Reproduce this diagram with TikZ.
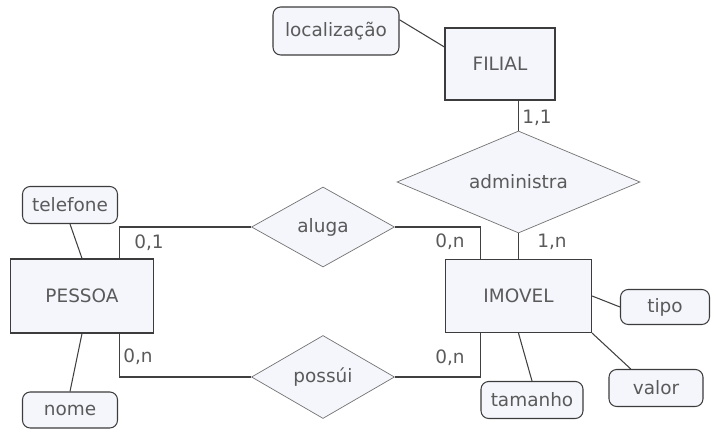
\documentclass[tikz,border=0pt]{standalone}
\usepackage{fontspec}
\setmainfont{DejaVu Sans}
\usetikzlibrary{shapes.geometric}
\definecolor{boxfill}{RGB}{244,246,251}
\definecolor{boxline}{RGB}{60,60,60}
\definecolor{txtgray}{RGB}{90,90,90}
\begin{document}
\begin{tikzpicture}[
    entity/.style={draw=boxline,line width=0.7pt,fill=boxfill,rectangle,text=txtgray,font=\fontsize{10.5}{12}\selectfont},
    attrib/.style={draw=boxline,line width=0.6pt,fill=boxfill,rectangle,rounded corners=0.8ex,text=txtgray,font=\fontsize{10.5}{12}\selectfont,inner sep=1pt},
    relation/.style={draw=black!55,fill=boxfill,diamond,aspect=2,inner sep=0pt,text=txtgray,font=\fontsize{10.5}{12}\selectfont},
    card/.style={text=txtgray,font=\fontsize{10.5}{12}\selectfont,inner sep=1pt},
    link/.style={draw=black!75,line width=0.6pt}]
    \useasboundingbox (0,0) rectangle (14.22,8.6);
    %% Entities
    \node[entity,minimum width=2.2cm,minimum height=1.44cm] (filial) at (10.0,7.32) {FILIAL};
    \node[entity,minimum width=2.92cm,minimum height=1.46cm] (imovel) at (10.37,2.68) {IMOVEL};
    \node[entity,minimum width=2.86cm,minimum height=1.48cm] (pessoa) at (1.64,2.68) {PESSOA};
    %% Relationships
    \node[relation,minimum width=4.86cm,minimum height=2.04cm] (admin) at (10.37,4.96) {administra};
    \node[relation,minimum width=2.86cm,minimum height=1.6cm] (aluga) at (6.46,4.06) {aluga};
    \node[relation,minimum width=2.86cm,minimum height=1.66cm] (possui) at (6.46,1.06) {possúi};
    %% Attributes
    \node[attrib,minimum width=2.52cm,minimum height=0.96cm] (loc) at (6.72,7.98) {localização};
    \node[attrib,minimum width=1.78cm,minimum height=0.7cm] (tipo) at (13.3,2.46) {tipo};
    \node[attrib,minimum width=1.88cm,minimum height=0.74cm] (valor) at (13.12,0.84) {valor};
    \node[attrib,minimum width=2.04cm,minimum height=0.74cm] (tamanho) at (10.64,0.6) {tamanho};
    \node[attrib,minimum width=1.9cm,minimum height=0.74cm] (tel) at (1.4,4.5) {telefone};
    \node[attrib,minimum width=1.9cm,minimum height=0.72cm] (nome) at (1.4,0.4) {nome};
    %% Attribute links
    \draw[link] (loc.10) -- (filial.163);
    \draw[link] (imovel.east) -- (tipo.west);
    \draw[link] (imovel.south east) -- (valor.143);
    \draw[link] (imovel.south) -- (tamanho.north);
    \draw[link] (pessoa.north) -- (tel.south);
    \draw[link] (pessoa.south) -- (nome.north);
    %% Relationship links
    \draw[link] (admin.north) -- (admin.north |- filial.south);
    \draw[link] (admin.south) -- (admin.south |- imovel.north);
    \draw[link] (aluga.east) -| ([xshift=0.72cm]imovel.north west);
    \draw[link] (possui.east) -| ([xshift=0.72cm]imovel.south west);
    \draw[link] (aluga.west) -| ([xshift=-0.7cm]pessoa.north east);
    \draw[link] (possui.west) -| ([xshift=-0.7cm]pessoa.south east);
    %% Cardinalities
    \node[card] (c11) at (10.74,6.24) {1,1};
    \node[card] (c1n) at (11.04,3.76) {1,n};
    \node[card] (c0na) at (9.0,3.76) {0,n};
    \node[card] (c0nb) at (9.0,1.44) {0,n};
    \node[card] (c01) at (2.98,3.74) {0,1};
    \node[card] (c0nc) at (2.76,1.46) {0,n};
\end{tikzpicture}
\end{document}
